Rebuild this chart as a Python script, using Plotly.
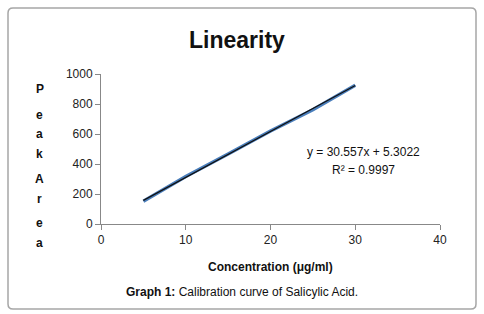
import numpy as np
import plotly.graph_objects as go

concentration = [5, 10, 15, 20, 25, 30]
peak_area = [152, 316, 466, 620, 762, 925]
x_ticks = [0, 10, 20, 30, 40]
y_ticks = [0, 200, 400, 600, 800, 1000]
y_letters = ["P", "e", "a", "k", "A", "r", "e", "a"]

slope, intercept = np.polyfit(concentration, peak_area, 1)
fit_x = [concentration[0], concentration[-1]]
fit_y = [slope * v + intercept for v in fit_x]

W, H = 484, 314
L, R, T, B = 101, 44, 74, 90
PW, PH = W - L - R, H - T - B

def px(x):
    return (x - L) / PW

def py(y):
    return (H - B - y) / PH

FONT = "Liberation Sans, Arial, sans-serif"

fig = go.Figure()
fig.add_trace(go.Scatter(x=concentration, y=peak_area, mode="lines",
                         line=dict(color="#4a7ebb", width=3.4), showlegend=False))
fig.add_trace(go.Scatter(x=fit_x, y=fit_y, mode="lines",
                         line=dict(color="#111111", width=1.2), showlegend=False))

fig.update_layout(
    width=W, height=H,
    margin=dict(l=L, r=R, t=T, b=B),
    paper_bgcolor="white", plot_bgcolor="white",
    font=dict(family=FONT, size=11, color="#222"),
    showlegend=False,
    xaxis=dict(range=[0, 40], tickvals=x_ticks, showgrid=False, zeroline=False,
               showline=True, linecolor="#888", linewidth=1, ticks="outside",
               ticklen=5, tickcolor="#888", tickfont=dict(size=12, color="#222"),
               fixedrange=True),
    yaxis=dict(range=[0, 1000], tickvals=y_ticks, showgrid=False, zeroline=False,
               showline=True, linecolor="#888", linewidth=1, ticks="outside",
               ticklen=5, tickcolor="#888", tickfont=dict(size=12, color="#222"),
               ticksuffix="\u00a0", fixedrange=True),
)

# outer rounded border
x0, y0, x1, y1, r = 8, 8, 476, 309, 5
path = (f"M {px(x0+r)},{py(y0)} L {px(x1-r)},{py(y0)} Q {px(x1)},{py(y0)} {px(x1)},{py(y0+r)} "
        f"L {px(x1)},{py(y1-r)} Q {px(x1)},{py(y1)} {px(x1-r)},{py(y1)} "
        f"L {px(x0+r)},{py(y1)} Q {px(x0)},{py(y1)} {px(x0)},{py(y1-r)} "
        f"L {px(x0)},{py(y0+r)} Q {px(x0)},{py(y0)} {px(x0+r)},{py(y0)} Z")
fig.add_shape(type="path", path=path, xref="paper", yref="paper",
              line=dict(color="#a6a6a6", width=1.5), layer="below")

def ann(text, x, y, size, bold=False, **kw):
    fig.add_annotation(text=f"<b>{text}</b>" if bold else text, x=px(x), y=py(y),
                       xref="paper", yref="paper", showarrow=False,
                       xanchor="center", yanchor="middle",
                       font=dict(family=FONT, size=size, color="#111"), **kw)

ann("Linearity", 237, 40, 23, bold=True)
ann("Concentration (μg/ml)", 270, 267, 12, bold=True)
ann("<b>Graph 1:</b> Calibration curve of Salicylic Acid.", 242, 292, 12)
ann("y = 30.557x + 5.3022", 363, 152, 12)
ann("R² = 0.9997", 363, 170, 12)
letter_y = [89, 115, 134, 154, 179, 199, 223, 243]
for ch, yy in zip(y_letters, letter_y):
    ann(ch, 40, yy, 12, bold=True)

fig.write_html("out.html", post_script="document.body.style.margin='0';",
               config={"displayModeBar": False})
